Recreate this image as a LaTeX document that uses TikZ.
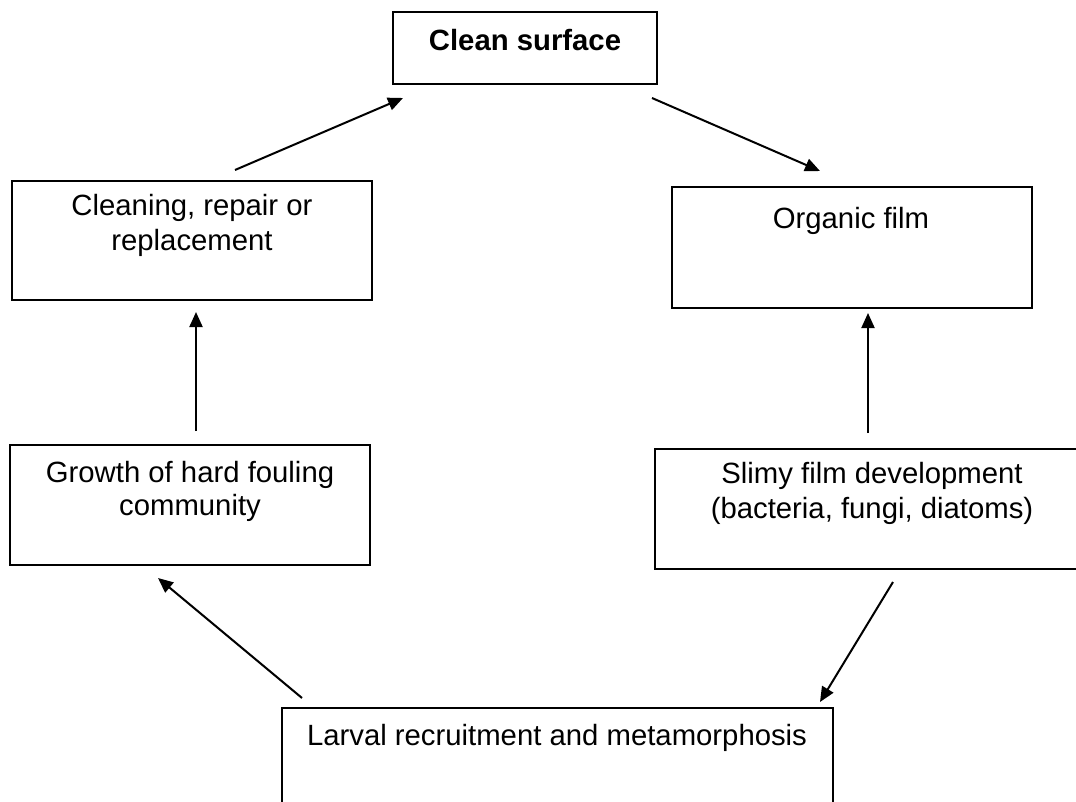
\documentclass[tikz,border=0pt]{standalone}
\usepackage{fontspec}
\setmainfont{Liberation Sans}
\usetikzlibrary{arrows.meta}
\begin{document}
\begin{tikzpicture}[x=1pt,y=-1pt,
  box/.style={draw, line width=2pt, inner sep=0pt, rectangle},
  lbl/.style={anchor=base, inner sep=0pt, font=\fontsize{29.3}{35}\selectfont},
  conn/.style={line width=2pt, -{Triangle[length=15pt,width=13pt]}}]
\useasboundingbox (0,0) rectangle (1076,801);
\clip (0,0) rectangle (1076,801);
% boxes
\node[box, minimum width=264pt, minimum height=72pt] (cs) at (525,48) {};
\node[box, minimum width=360pt, minimum height=119pt] (cr) at (192,240) {};
\node[box, minimum width=360pt, minimum height=121pt] (of) at (852,247.5) {};
\node[box, minimum width=360pt, minimum height=120pt] (gr) at (190,505) {};
\node[box, minimum width=434pt, minimum height=120pt] (sl) at (872,509) {};
\node[box, minimum width=551pt, minimum height=122pt] (la) at (557.5,769) {};
% texts
\node[lbl, font=\fontsize{29.3}{35}\selectfont\bfseries] (tcs) at (525,50) {Clean surface};
\node[lbl] (tcr1) at (192,215) {Cleaning, repair or};
\node[lbl] (tcr2) at (192,250) {replacement};
\node[lbl] (tof) at (851,228) {Organic film};
\node[lbl] (tgr1) at (190,482) {Growth of hard fouling};
\node[lbl] (tgr2) at (190,515) {community};
\node[lbl] (tsl1) at (872,483) {Slimy film development};
\node[lbl] (tsl2) at (872,518) {(bacteria, fungi, diatoms)};
\node[lbl] (tla) at (557,745) {Larval recruitment and metamorphosis};
% connector ends
\coordinate (a1s) at (235,170); \coordinate (a1e) at (403,98);
\coordinate (a2s) at (652,98);  \coordinate (a2e) at (820,171);
\coordinate (a3s) at (868,433); \coordinate (a3e) at (868,313);
\coordinate (a4s) at (196,431); \coordinate (a4e) at (196,312);
\coordinate (a5s) at (893,582); \coordinate (a5e) at (820,702);
\coordinate (a6s) at (302,698); \coordinate (a6e) at (158,578);
\draw[conn] (a1s) -- (a1e);
\draw[conn] (a2s) -- (a2e);
\draw[conn] (a3s) -- (a3e);
\draw[conn] (a4s) -- (a4e);
\draw[conn] (a5s) -- (a5e);
\draw[conn] (a6s) -- (a6e);
\end{tikzpicture}
\end{document}
